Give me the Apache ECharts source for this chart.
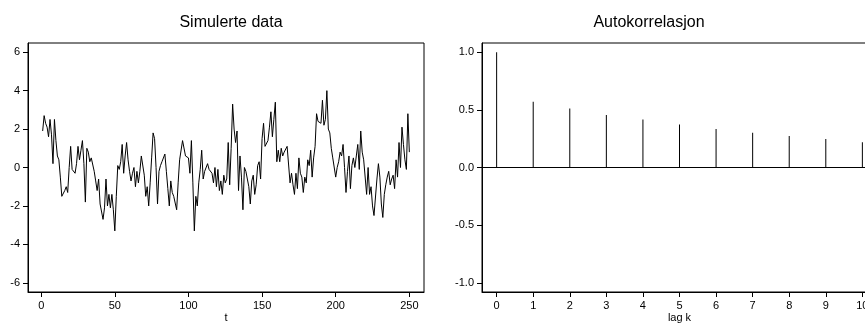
<!DOCTYPE html>
<html>
<head>
<meta charset="utf-8">
<script src="https://cdn.jsdelivr.net/npm/echarts@6/dist/echarts.min.js"></script>
<style>
  html, body { margin: 0; padding: 0; background: #fff; }
  #chart { width: 865px; height: 324px; }
</style>
</head>
<body>
<div id="chart"></div>
<script>
// Simulated series, t = 1..250
const seriesValues = [
   1.9,  2.7,  2.3,  2.1,  1.6,  2.5,  1.7,  0.2,  2.5,  1.4,
   0.6,  0.4, -0.5, -1.5, -1.4, -1.2, -1.0, -1.3,  0.0,  1.1,
  -0.1, -0.2, -0.3,  0.2,  1.1,  0.4,  0.9,  1.4,  0.2, -1.8,
   1.0,  0.8,  0.3,  0.5,  0.5, -0.2, -0.7, -1.2, -0.6, -1.9,
  -1.8, -2.7, -2.1, -0.6, -2.0, -1.4, -2.1, -1.4, -2.2, -3.3,
  -1.5,  0.1, -0.1,  0.3,  1.2, -0.3,  0.6,  1.3,  0.4, -0.2,
  -0.7, -0.3,  0.0, -1.0, -0.2, -0.8, -0.2,  0.6,  0.6, -0.4,
  -1.5, -1.0, -2.0, -0.8,  0.5,  1.8,  1.5,  0.0, -1.9, -0.2,
   0.1,  0.3,  0.2,  0.7, -0.2, -1.1, -2.0, -0.7, -1.3, -1.5,
  -1.6, -2.2, -0.8,  0.4,  0.5,  1.4,  1.3,  0.6,  0.5,  0.5,
  -0.3,  1.4, -0.8, -3.3, -1.5, -2.0, -0.8, -0.1,  0.9, -0.6,
  -0.2, -0.1,  0.2, -0.1, -0.2, -0.3, -0.8,  0.0, -1.0, -0.1,
  -1.2, -0.7, -1.4, -0.4, -0.8, -0.6,  1.3, -0.9,  1.0,  3.3,
   2.0,  1.3,  1.9, -1.2,  0.6, -0.5, -2.2,  0.0, -0.2, -0.1,
  -1.0, -1.9, -0.7, -0.4, -1.4, -0.9,  0.1,  0.3, -0.6,  1.5,
   2.3,  1.1,  1.2,  1.4,  2.1,  2.9,  1.6,  2.5,  3.4,  0.3,
   0.9,  0.3,  1.0,  0.6,  0.8,  0.7,  1.1,  1.0, -0.8, -0.3,
  -0.9, -1.4, -0.3, -1.1,  0.5, -0.3, -0.5, -1.3, -0.5, -0.8,
   0.4,  0.1,  0.9, -0.5,  0.5,  1.1,  2.8,  2.4,  2.3,  2.3,
   3.5,  2.2,  2.5,  4.0,  2.0,  1.8,  1.0,  0.5,  0.6, -0.5,
   0.0,  0.3,  0.8,  0.6,  1.2,  0.0, -1.3, -0.2,  0.6, -1.1,
   0.1,  0.5,  0.0,  0.6,  1.2, -0.1,  1.9,  0.8,  0.4,  0.3,
  -1.4,  0.0, -1.4, -1.0, -2.0, -2.5, -2.6, -0.6,  0.2, -0.5,
  -1.9, -2.6, -1.4, -0.9, -0.5, -0.2, -0.9, -0.6, -0.4, -1.1,
   0.4, -0.5,  1.3,  0.0,  2.1,  1.2,  0.4, -0.1,  2.8,  0.8
];

// Sample autocorrelation, lags 0..10
const lags = [0, 1, 2, 3, 4, 5, 6, 7, 8, 9, 10];
const acfValues = [1.0, 0.570, 0.512, 0.456, 0.416, 0.372, 0.334, 0.302, 0.273, 0.247, 0.218];

// Tick labels
const timeTicks = [0, 50, 100, 150, 200, 250];
const valueTicks = [-6, -4, -2, 0, 2, 4, 6];
const acfTicks = [-1.0, -0.5, 0.0, 0.5, 1.0];

const FONT = '"Liberation Sans", Arial, sans-serif';
const BLACK = '#000';

const linePoints = seriesValues.map((v, i) => [i + 1, v]);
const acfPoints = lags.map((k, i) => [k, acfValues[i]]);

function axisCommon() {
  return {
    axisLine: { show: true, onZero: false, lineStyle: { color: BLACK, width: 1 } },
    splitLine: { show: false },
  };
}

function ticks(values) {
  return { show: true, inside: false, length: 5, customValues: values,
    lineStyle: { color: BLACK, width: 1 } };
}

const chart = echarts.init(document.getElementById('chart'), null, { renderer: 'canvas' });

chart.setOption({
  animation: false,
  backgroundColor: '#fff',
  textStyle: { fontFamily: FONT },
  title: [
    { text: 'Simulerte data', left: 226, top: 10, textAlign: 'center',
      textStyle: { fontFamily: FONT, fontSize: 16, fontWeight: 'normal', color: BLACK } },
    { text: 'Autokorrelasjon', left: 644, top: 10, textAlign: 'center',
      textStyle: { fontFamily: FONT, fontSize: 16, fontWeight: 'normal', color: BLACK } }
  ],
  grid: [
    { left: 28, top: 43, width: 396, height: 249, show: true, outerBoundsMode: 'none',
      containLabel: false, borderColor: BLACK, borderWidth: 1, backgroundColor: 'transparent' },
    { left: 482, top: 43, width: 395, height: 249, show: true, outerBoundsMode: 'none',
      containLabel: false, borderColor: BLACK, borderWidth: 1, backgroundColor: 'transparent' }
  ],
  xAxis: [
    Object.assign(axisCommon(), {
      type: 'value', gridIndex: 0, min: -8.96, max: 259.96,
      name: 't', nameLocation: 'middle', nameGap: 20, nameMoveOverlap: false,
      nameTextStyle: { fontFamily: FONT, fontSize: 11, color: BLACK },
      axisTick: ticks(timeTicks),
      axisLabel: { customValues: timeTicks, margin: 8, fontFamily: FONT, fontSize: 11, color: BLACK }
    }),
    Object.assign(axisCommon(), {
      type: 'value', gridIndex: 1, min: -0.4, max: 10.4,
      name: 'lag k', nameLocation: 'middle', nameGap: 20, nameMoveOverlap: false,
      nameTextStyle: { fontFamily: FONT, fontSize: 11, color: BLACK },
      axisTick: ticks(lags),
      axisLabel: { customValues: lags, margin: 8, fontFamily: FONT, fontSize: 11, color: BLACK }
    })
  ],
  yAxis: [
    Object.assign(axisCommon(), {
      type: 'value', gridIndex: 0, min: -6.48, max: 6.48,
      axisTick: ticks(valueTicks),
      axisLabel: { customValues: valueTicks, margin: 8, fontFamily: FONT, fontSize: 11, color: BLACK }
    }),
    Object.assign(axisCommon(), {
      type: 'value', gridIndex: 1, min: -1.08, max: 1.08,
      axisTick: ticks(acfTicks),
      axisLabel: { customValues: acfTicks, margin: 8, fontFamily: FONT, fontSize: 11, color: BLACK,
        formatter: v => v.toFixed(1) }
    })
  ],
  series: [
    {
      type: 'line', xAxisIndex: 0, yAxisIndex: 0, data: linePoints,
      showSymbol: false, symbol: 'none',
      lineStyle: { color: BLACK, width: 1 }, silent: true
    },
    {
      type: 'bar', xAxisIndex: 1, yAxisIndex: 1, data: acfPoints,
      barWidth: 1, itemStyle: { color: BLACK }, silent: true,
      markLine: {
        silent: true, symbol: ['none', 'none'], label: { show: false },
        lineStyle: { color: BLACK, width: 1, type: 'solid' },
        data: [{ yAxis: 0 }]
      }
    }
  ]
});
</script>
</body>
</html>
